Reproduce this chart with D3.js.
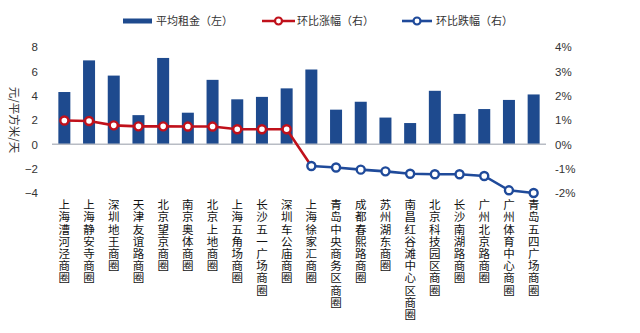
<!DOCTYPE html>
<html>
<head>
<meta charset="utf-8">
<script src="https://cdn.jsdelivr.net/npm/d3@7/dist/d3.min.js"></script>
<style>
  html, body { margin: 0; padding: 0; background: #fff; }
  svg { display: block; font-family: "Noto Sans CJK SC", "Noto Sans", sans-serif; }
  .cat { writing-mode: vertical-rl; text-orientation: upright; }
</style>
</head>
<body>
<svg id="chart" width="640" height="333"></svg>
<script>
// Business districts
const districts = [
  "上海漕河泾商圈", "上海静安寺商圈", "深圳地王商圈", "天津友谊路商圈", "北京望京商圈",
  "南京奥体商圈", "北京上地商圈", "上海五角场商圈", "长沙五一广场商圈", "深圳车公庙商圈",
  "上海徐家汇商圈", "青岛中央商务区商圈", "成都春熙路商圈", "苏州湖东商圈", "南昌红谷滩中心区商圈",
  "北京科技园区商圈", "长沙南湖路商圈", "广州北京路商圈", "广州体育中心商圈", "青岛五四广场商圈"
];

// Average rent, 元/平方米/天 (left axis)
const avgRent = [4.3, 6.9, 5.65, 2.4, 7.1, 2.6, 5.3, 3.7, 3.9, 4.6,
                 6.15, 2.85, 3.5, 2.2, 1.75, 4.4, 2.5, 2.9, 3.65, 4.1];

// Month-on-month change, % (right axis)
const momChange = [0.98, 0.96, 0.78, 0.74, 0.74, 0.73, 0.73, 0.62, 0.62, 0.62,
                   -0.89, -0.95, -1.04, -1.11, -1.21, -1.23, -1.23, -1.30, -1.89, -2.0];

const riseCount = 10; // first districts with a rise

const leftTicks = [-4, -2, 0, 2, 4, 6, 8];
const rightTicks = [-2, -1, 0, 1, 2, 3, 4];
const legendLabels = ["平均租金（左）", "环比涨幅（右）", "环比跌幅（右）"];
const yTitle = "元/平方米/天";

const barColor = "#1e4a8e";
const redColor = "#c0111b";
const blueColor = "#1f4a9a";
const textColor = "#333";

const svg = d3.select("#chart");

const x = d3.scaleBand().domain(districts).range([52, 546]).padding(0);
const yL = d3.scaleLinear().domain([-4, 8]).range([193, 47]);
const yR = d3.scaleLinear().domain([-2, 4]).range([193, 47]);
const barW = 12;
const cx = d => x(d) + x.bandwidth() / 2;

// Left axis
const leftAxis = svg.append("g").attr("transform", "translate(38,0)")
  .call(d3.axisLeft(yL).tickValues(leftTicks).tickSize(0).tickPadding(0).tickFormat(d3.format("d")));
leftAxis.select(".domain").remove();
leftAxis.selectAll("text").attr("font-size", 11.5).attr("fill", textColor)
  .attr("font-family", "Liberation Sans, Arial, sans-serif");

// Right axis
const rightAxis = svg.append("g").attr("transform", "translate(555,0)")
  .call(d3.axisRight(yR).tickValues(rightTicks).tickSize(0).tickPadding(0).tickFormat(d => d + "%"));
rightAxis.select(".domain").remove();
rightAxis.selectAll("text").attr("font-size", 11.5).attr("fill", textColor)
  .attr("font-family", "Liberation Sans, Arial, sans-serif");

// Y title, rotated
svg.append("text")
  .attr("transform", `translate(10,120) rotate(90)`)
  .attr("text-anchor", "middle")
  .attr("font-size", 11.5)
  .attr("fill", textColor)
  .text(yTitle);

// Bars
svg.append("g").selectAll("rect")
  .data(districts)
  .join("rect")
  .attr("x", d => cx(d) - barW / 2)
  .attr("width", barW)
  .attr("y", (d, i) => Math.min(yL(avgRent[i]), yL(0)))
  .attr("height", (d, i) => Math.abs(yL(avgRent[i]) - yL(0)))
  .attr("fill", barColor);

// Zero line
svg.append("line")
  .attr("x1", 52).attr("x2", 546)
  .attr("y1", yL(0)).attr("y2", yL(0))
  .attr("stroke", "#b8bcc4").attr("stroke-width", 1.5);

const line = d3.line().x(d => cx(d.k)).y(d => yR(d.v));
const pts = districts.map((k, i) => ({ k, v: momChange[i] }));
const risePts = pts.slice(0, riseCount + 1);
const fallPts = pts.slice(riseCount);

// Rise line runs into the first falling point
svg.append("path").datum(risePts).attr("d", line)
  .attr("fill", "none").attr("stroke", redColor).attr("stroke-width", 2.6);
svg.append("path").datum(fallPts).attr("d", line)
  .attr("fill", "none").attr("stroke", blueColor).attr("stroke-width", 2.6);

svg.append("g").selectAll("circle").data(pts.slice(0, riseCount)).join("circle")
  .attr("cx", d => cx(d.k)).attr("cy", d => yR(d.v)).attr("r", 4)
  .attr("fill", "#fff").attr("stroke", redColor).attr("stroke-width", 2.4);
svg.append("g").selectAll("circle").data(fallPts).join("circle")
  .attr("cx", d => cx(d.k)).attr("cy", d => yR(d.v)).attr("r", 4)
  .attr("fill", "#fff").attr("stroke", blueColor).attr("stroke-width", 2.4);

// Category labels, written vertically
svg.append("g").selectAll("text").data(districts).join("text")
  .attr("class", "cat")
  .attr("x", d => cx(d))
  .attr("y", 199)
  .attr("font-size", 11.5)
  .attr("letter-spacing", 0.7)
  .attr("fill", "#111")
  .text(d => d);

// Legend
const lg = svg.append("g").attr("font-size", 11).attr("fill", textColor);
lg.append("rect").attr("x", 123).attr("y", 18.5).attr("width", 29).attr("height", 5).attr("fill", barColor);
lg.append("text").attr("x", 156).attr("y", 25).text(legendLabels[0]);

lg.append("line").attr("x1", 262).attr("x2", 295).attr("y1", 21).attr("y2", 21)
  .attr("stroke", redColor).attr("stroke-width", 2.6);
lg.append("circle").attr("cx", 278.5).attr("cy", 21).attr("r", 3.5)
  .attr("fill", "#fff").attr("stroke", redColor).attr("stroke-width", 2.2);
lg.append("text").attr("x", 297).attr("y", 25).text(legendLabels[1]);

lg.append("line").attr("x1", 402).attr("x2", 432).attr("y1", 21).attr("y2", 21)
  .attr("stroke", blueColor).attr("stroke-width", 2.6);
lg.append("circle").attr("cx", 417).attr("cy", 21).attr("r", 3.5)
  .attr("fill", "#fff").attr("stroke", blueColor).attr("stroke-width", 2.2);
lg.append("text").attr("x", 436).attr("y", 25).text(legendLabels[2]);
</script>
</body>
</html>
